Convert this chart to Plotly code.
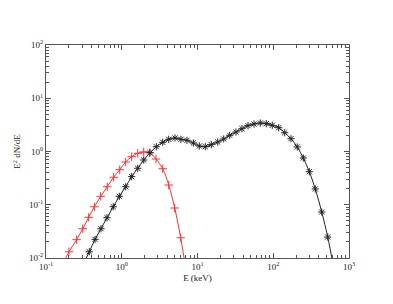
import plotly.graph_objects as go

# Red component (E in keV, E^2 dN/dE)
red_E = [0.168, 0.201, 0.254, 0.305, 0.366, 0.435, 0.527, 0.644, 0.783, 0.940, 1.127,
         1.352, 1.626, 1.950, 2.339, 2.831, 3.475, 4.169, 5.000, 5.998, 7.19]
red_F = [0.0078, 0.0131, 0.0221, 0.0355, 0.0581, 0.0918, 0.144, 0.218, 0.328, 0.455, 0.635,
         0.798, 0.925, 0.980, 0.948, 0.723, 0.475, 0.235, 0.0869, 0.0240, 0.0049]

# Black (total) spectrum
blk_E = [0.309, 0.373, 0.444, 0.532, 0.638, 0.773, 0.929, 1.127, 1.352, 1.626, 1.950,
         2.360, 2.858, 3.475, 4.169, 5.047, 6.053, 7.261, 8.810, 10.57, 12.68,
         15.21, 18.49, 22.18, 26.61, 32.21, 38.64, 46.45, 55.72, 67.45, 80.91,
         97.06, 118.0, 141.6, 171.4, 207.5, 249.5, 299.2, 358.9, 436.5, 523.6, 631.0]
blk_F = [0.0076, 0.0131, 0.0224, 0.0355, 0.0571, 0.0918, 0.144, 0.218, 0.337, 0.484, 0.692,
         0.948, 1.230, 1.489, 1.694, 1.795, 1.694, 1.622, 1.445, 1.268, 1.230,
         1.343, 1.507, 1.718, 2.014, 2.323, 2.679, 3.055, 3.281, 3.428, 3.327,
         3.105, 2.799, 2.254, 1.738, 1.216, 0.755, 0.418, 0.198, 0.0731, 0.0248, 0.0063]

x_tickvals = [0.1, 1, 10, 100, 1000]
x_ticktext = ["10<sup>-1</sup>", "10<sup>0</sup>", "10<sup>1</sup>", "10<sup>2</sup>", "10<sup>3</sup>"]
y_tickvals = [0.01, 0.1, 1, 10, 100]
y_ticktext = ["10<sup>-2</sup>", "10<sup>-1</sup>", "10<sup>0</sup>", "10<sup>1</sup>", "10<sup>2</sup>"]
digits = [2, 3, 4, 5, 6, 7, 8, 9]
x_minor = [d * b for b in [0.1, 1, 10, 100] for d in digits]
y_minor = [d * b for b in [0.01, 0.1, 1, 10] for d in digits]

fig = go.Figure()
fig.add_trace(go.Scatter(
    x=red_E, y=red_F, mode="lines+markers",
    line=dict(color="#ff3030", width=1, shape="spline"),
    marker=dict(symbol="cross-thin-open", size=6, color="#ff3030", line=dict(width=1, color="#ff3030")),
    showlegend=False, cliponaxis=True))
fig.add_trace(go.Scatter(
    x=blk_E, y=blk_F, mode="lines+markers",
    line=dict(color="#222222", width=1, shape="spline"),
    marker=dict(symbol="asterisk-open", size=6, color="#222222", line=dict(width=1, color="#222222")),
    showlegend=False, cliponaxis=True))

font = dict(family="Liberation Serif", size=9, color="#222")
axis_common = dict(
    type="log", ticks="inside", ticklen=5, tickwidth=1, tickcolor="#555",
    showline=True, linecolor="#555", linewidth=1, mirror="allticks",
    showgrid=False, zeroline=False, automargin=False,
    tickfont=font,
)

fig.update_xaxes(range=[-1, 3], tickvals=x_tickvals, ticktext=x_ticktext,
                 minor=dict(ticks="inside", ticklen=3, tickcolor="#555", tickvals=x_minor, showgrid=False),
                 title=dict(text="E (keV)", font=font, standoff=3),
                 **axis_common)
fig.update_yaxes(range=[-2, 2], tickvals=y_tickvals, ticktext=y_ticktext,
                 minor=dict(ticks="inside", ticklen=3, tickcolor="#555", tickvals=y_minor, showgrid=False),
                 title=dict(text="E<sup>2</sup> dN/dE", font=font, standoff=6),
                 **axis_common)

# page body has an 8px default margin, so offsets are compensated here
fig.update_layout(
    width=393, height=304,
    margin=dict(l=38, r=52, t=37, b=54),
    plot_bgcolor="white", paper_bgcolor="white",
)

fig.write_html("out.html")
